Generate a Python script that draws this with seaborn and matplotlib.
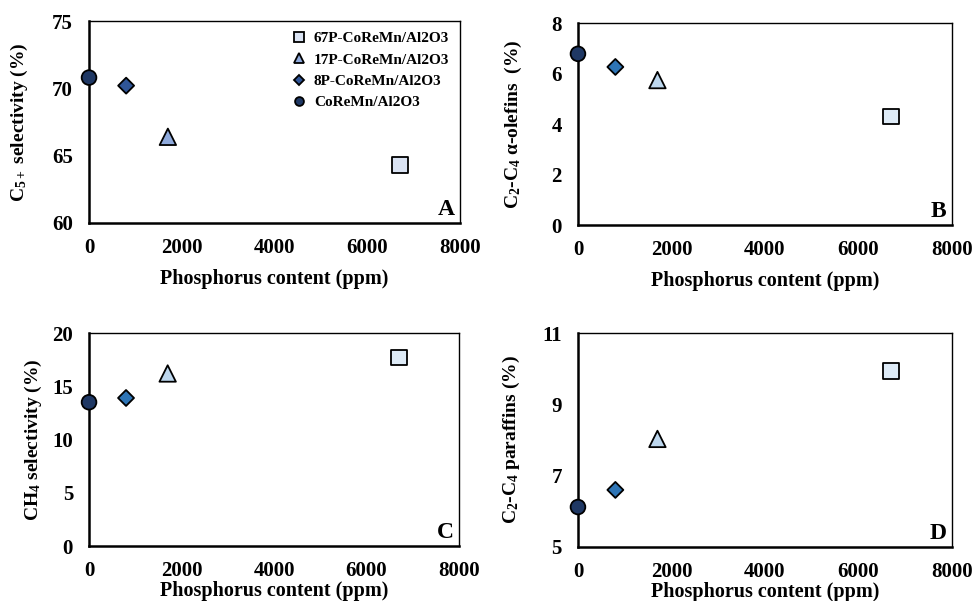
import matplotlib
matplotlib.use("Agg")
import matplotlib.pyplot as plt
import seaborn as sns
import pandas as pd

samples = ["67P-CoReMn/Al2O3", "17P-CoReMn/Al2O3", "8P-CoReMn/Al2O3", "CoReMn/Al2O3"]
phosphorus_ppm = [6700, 1700, 800, 0]
c5_selectivity = [64.3, 66.4, 70.2, 70.8]
c2c4_olefins = [4.29, 5.74, 6.26, 6.78]
ch4_selectivity = [17.7, 16.2, 13.9, 13.5]
c2c4_paraffins = [9.93, 8.03, 6.6, 6.12]

markers = {"67P-CoReMn/Al2O3": "s", "17P-CoReMn/Al2O3": "^",
           "8P-CoReMn/Al2O3": "D", "CoReMn/Al2O3": "o"}
marker_sizes = {"67P-CoReMn/Al2O3": 125, "17P-CoReMn/Al2O3": 140,
                "8P-CoReMn/Al2O3": 66, "CoReMn/Al2O3": 112}
palette_a = {"67P-CoReMn/Al2O3": "#DAE3F3", "17P-CoReMn/Al2O3": "#8FAADC",
             "8P-CoReMn/Al2O3": "#2F5597", "CoReMn/Al2O3": "#1F3864"}
palette_b = {"67P-CoReMn/Al2O3": "#DEEBF7", "17P-CoReMn/Al2O3": "#BDD7EE",
             "8P-CoReMn/Al2O3": "#2E75B6", "CoReMn/Al2O3": "#1F3864"}

sns.set_style("white")
plt.rcParams["font.family"] = ["Liberation Serif", "DejaVu Serif"]
plt.rcParams["font.weight"] = "bold"
plt.rcParams["axes.labelweight"] = "bold"
plt.rcParams["text.color"] = "black"
plt.rcParams["axes.labelcolor"] = "black"
plt.rcParams["xtick.color"] = "black"
plt.rcParams["ytick.color"] = "black"
plt.rcParams["mathtext.fontset"] = "custom"
plt.rcParams["mathtext.rm"] = "Liberation Serif:bold"
plt.rcParams["mathtext.bf"] = "Liberation Serif:bold"
plt.rcParams["mathtext.it"] = "Liberation Serif:bold"
plt.rcParams["mathtext.default"] = "bf"

df = pd.DataFrame({"sample": samples, "P": phosphorus_ppm,
                   "C5": c5_selectivity, "olef": c2c4_olefins,
                   "CH4": ch4_selectivity, "par": c2c4_paraffins})

fig = plt.figure(figsize=(9.73, 6.01), dpi=100)

panels = [
    # key, rect, ylabel, ylim, yticks, letter, palette, xlabelpad, ylabelpad
    ("C5", [0.0915, 0.629, 0.3813, 0.336], r"C$_{5+}$ selectivity (%)", (60, 75), [60, 65, 70, 75], "A", palette_a, 8, 16),
    ("olef", [0.594, 0.6256, 0.3844, 0.3361], r"C$_2$-C$_4$ α-olefins  (%)", (0, 8), [0, 2, 4, 6, 8], "B", palette_b, 8, 20),
    ("CH4", [0.0915, 0.0915, 0.3803, 0.3544], r"CH$_4$ selectivity (%)", (0, 20), [0, 5, 10, 15, 20], "C", palette_b, 0, 6),
    ("par", [0.594, 0.0899, 0.3844, 0.356], r"C$_2$-C$_4$ paraffins (%)", (5, 11), [5, 7, 9, 11], "D", palette_b, 0, 15),
]

for key, rect, ylab, ylim, yticks, letter, pal, xpad, ypad in panels:
    ax = fig.add_axes(rect)
    sns.scatterplot(data=df, x="P", y=key, hue="sample", style="sample", size="sample",
                    hue_order=samples, style_order=samples, size_order=samples,
                    palette=pal, markers=markers, sizes=marker_sizes,
                    edgecolor="black", linewidth=1.3, ax=ax,
                    legend=(letter == "A"), zorder=5, clip_on=False)
    ax.set_xlim(0, 8000)
    ax.set_ylim(*ylim)
    ax.set_xticks([0, 2000, 4000, 6000, 8000])
    ax.set_yticks(yticks)
    ax.set_xlabel("Phosphorus content (ppm)", fontsize=14.5, fontweight="bold",
                  labelpad=xpad, color="black")
    ax.set_ylabel(ylab, fontsize=14, fontweight="bold", labelpad=ypad, color="black")
    ax.tick_params(axis="both", direction="inout", length=7, width=1.3,
                   labelsize=15, colors="black")
    ax.tick_params(axis="y", pad=8)
    ax.tick_params(axis="x", pad=7)
    for lab in ax.get_xticklabels() + ax.get_yticklabels():
        lab.set_fontweight("bold")
    for side in ["left", "bottom"]:
        ax.spines[side].set_linewidth(1.8)
        ax.spines[side].set_color("black")
    for side in ["top", "right"]:
        ax.spines[side].set_linewidth(1.0)
        ax.spines[side].set_color("black")
    ax.text(0.985, 0.015, letter, transform=ax.transAxes, ha="right", va="bottom",
            fontsize=17, fontweight="bold", color="black")
    if letter == "A":
        leg = ax.legend(loc="upper right", frameon=False, fontsize=11,
                        handletextpad=0.0, labelspacing=0.5, markerscale=0.6,
                        borderaxespad=0.3)
        for t in leg.get_texts():
            t.set_fontweight("bold")
            t.set_color("black")

fig.savefig("out.png", dpi=100)
